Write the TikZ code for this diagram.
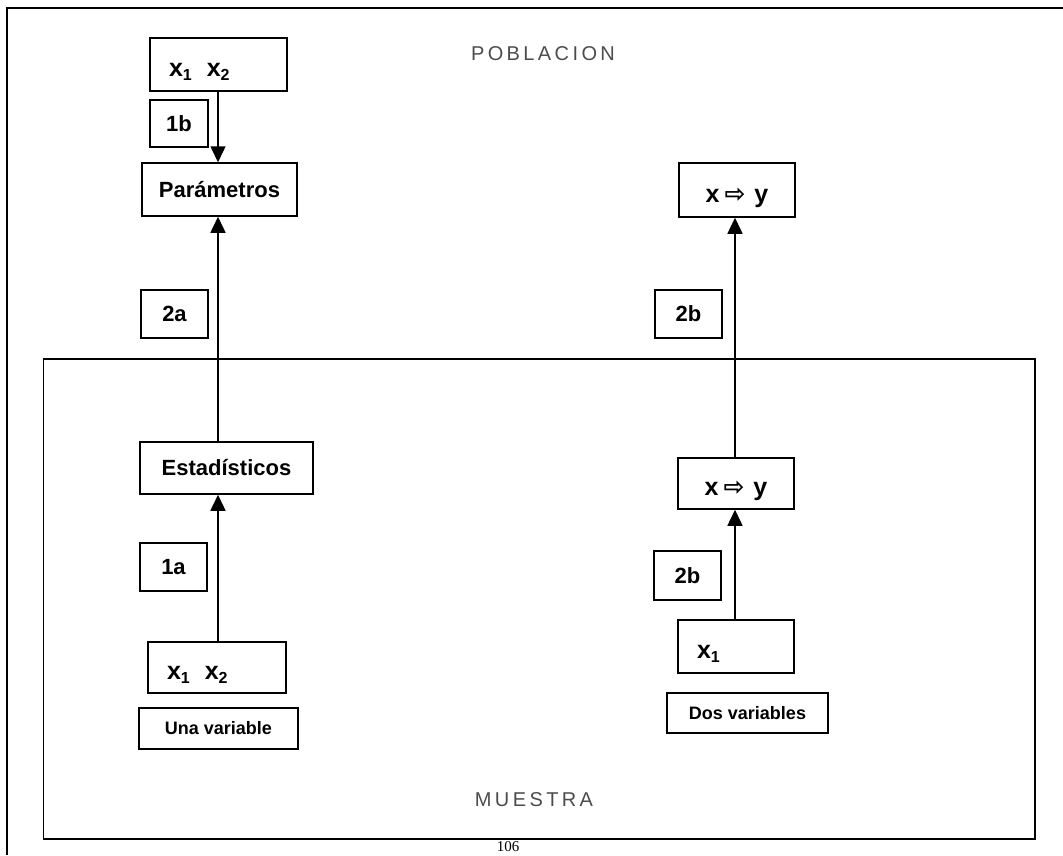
\documentclass[tikz,border=0pt]{standalone}
\usepackage{fontspec}
\setmainfont{Liberation Sans}
\newfontfamily\arrowfont{DejaVu Sans}
\newfontfamily\pagefont{Liberation Serif}
\usetikzlibrary{arrows.meta}
\newcommand{\subi}[1]{\raisebox{-4pt}{\fontsize{16}{16}\selectfont #1}}

\begin{document}
\begin{tikzpicture}[x=1pt,y=-1pt,
		caja/.style={draw,line width=1.5pt,inner sep=0pt,font=\fontsize{22}{26}\selectfont\bfseries},
		var/.style={caja,font=\fontsize{25}{28}\selectfont\bfseries,text height=28pt,text depth=4pt},
		izq/.style={align=left,text width=#1,inner xsep=19pt},
		nota/.style={caja,font=\fontsize{18}{22}\selectfont\bfseries},
		titulo/.style={text=black!70,font=\fontsize{20}{24}\selectfont\addfontfeatures{LetterSpace=17}},
		flecha/.style={line width=1.5pt,-{Triangle[width=15pt,length=16pt]}}]
		\useasboundingbox (0,0) rectangle (1063,855);
		
		% page frame (open on the right and at the bottom)
		\draw[line width=2pt] (7,855) -- (7,8) -- (1063,8);
		
		% sample region
		\draw[line width=1.5pt] (43.5,359) rectangle (1035,839);
		\node[titulo] (poblacion) at (543,54) {POBLACION};
		\node[titulo] (muestra) at (534,800) {MUESTRA};
		\node[font=\pagefont\fontsize{15}{18}\selectfont,anchor=base,inner sep=0pt] (pagina) at (508,851) {106};
		
		% columns of the arrows
		\coordinate (colA) at (218,0);
		\coordinate (colB) at (735,0);
		
		% left column: one variable
		\node[var,izq=99pt,minimum height=53pt] (xarriba) at (218.5,64.5) {x\subi{1}\hspace{15pt}x\subi{2}};
		\node[caja,minimum width=58pt,minimum height=47pt] (l1b) at (179,123.5) {1b};
		\node[caja,minimum width=155pt,minimum height=53pt] (param) at (219.5,189.5) {Parámetros};
		\node[caja,minimum width=67pt,minimum height=48pt] (l2a) at (174.5,314) {2a};
		\node[caja,minimum width=173pt,minimum height=52pt] (estad) at (226.5,468) {Estadísticos};
		\node[caja,minimum width=67pt,minimum height=48pt] (l1a) at (173.5,567) {1a};
		\node[var,izq=100pt,minimum height=51pt] (xabajo) at (217,667.5) {x\subi{1}\hspace{15pt}x\subi{2}};
		\node[nota,minimum width=159pt,minimum height=41pt] (una) at (218.5,728.5) {Una variable};
		
		% right column: two variables
		\node[var,minimum width=116pt,minimum height=54pt] (xyarriba) at (737,190) {x\hspace{5pt}{\arrowfont ⇨}\hspace{9pt}y};
		\node[caja,minimum width=67pt,minimum height=48pt] (l2bA) at (688.5,314) {2b};
		\node[var,minimum width=116pt,minimum height=51pt] (xyabajo) at (736,483.5) {x\hspace{5pt}{\arrowfont ⇨}\hspace{9pt}y};
		\node[caja,minimum width=67pt,minimum height=49pt] (l2bB) at (687.5,575.5) {2b};
		\node[var,izq=78pt,minimum height=53pt] (xuno) at (736,646.5) {x\subi{1}};
		\node[nota,minimum width=161pt,minimum height=40pt] (dos) at (747.5,713) {Dos variables};
		
		% arrows
		\draw[flecha] (xarriba.south -| colA) -- (param.north -| colA);
		\draw[flecha] (estad.north -| colA) -- (param.south -| colA);
		\draw[flecha] (xabajo.north -| colA) -- (estad.south -| colA);
		\draw[flecha] (xyabajo.north -| colB) -- (xyarriba.south -| colB);
		\draw[flecha] (xuno.north -| colB) -- (xyabajo.south -| colB);
	\end{tikzpicture}
\end{document}
